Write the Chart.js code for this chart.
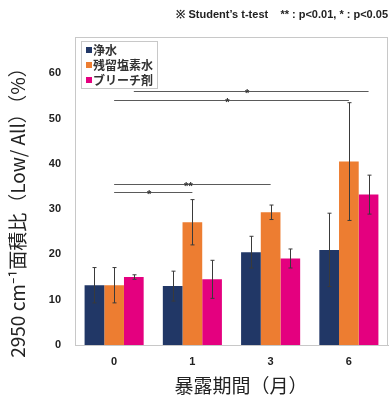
<!DOCTYPE html>
<html>
<head>
<meta charset="utf-8">
<script src="https://cdn.jsdelivr.net/npm/chart.js@4"></script>
<style>
  html, body { margin: 0; padding: 0; background: #fff; }
</style>
</head>
<body>
<canvas id="chart" width="391" height="398"></canvas>
<script>
const months = ['0', '1', '3', '6'];
const seriesNames = ['浄水', '残留塩素水', 'ブリーチ剤'];
const pureWater = [13.2, 13.0, 20.5, 21.0];
const chlorineWater = [13.2, 27.1, 29.3, 40.5];
const bleach = [15.0, 14.5, 19.1, 33.2];
const pureErr = [3.9, 3.3, 3.5, 8.1];
const chlorineErr = [3.9, 5.0, 1.6, 13.0];
const bleachErr = [0.5, 4.2, 2.1, 4.3];
const yTicks = [0, 10, 20, 30, 40, 50, 60];

// significance brackets: height, mark, [dataset, month index] start and end
const sigLevel = [56.0, 54.2, 35.5, 33.7];
const sigMark = ['*', '*', '**', '*'];
const sigFrom = [[2, 0], [1, 0], [1, 0], [1, 0]];
const sigTo = [[2, 3], [1, 3], [1, 2], [1, 1]];

const colors = ['#213766', '#ED7D31', '#E4007F'];
const errors = [pureErr, chlorineErr, bleachErr];
const jpFont = '"Noto Sans CJK JP", "Noto Sans", sans-serif';

const extras = {
  id: 'extras',
  afterDatasetsDraw(chart) {
    const ctx = chart.ctx;
    const y = chart.scales.y;
    const area = chart.chartArea;
    ctx.save();

    // frame
    ctx.strokeStyle = '#C8C8C8';
    ctx.lineWidth = 1;
    ctx.strokeRect(area.left + 0.5, area.top + 0.5, area.right - area.left - 1, area.bottom - area.top);

    // error bars
    ctx.strokeStyle = '#3a3a3a';
    chart.data.datasets.forEach((ds, i) => {
      const meta = chart.getDatasetMeta(i);
      meta.data.forEach((bar, j) => {
        const top = y.getPixelForValue(ds.data[j] + errors[i][j]);
        const bot = y.getPixelForValue(ds.data[j] - errors[i][j]);
        const x = Math.round(bar.x) + 0.5;
        ctx.beginPath();
        ctx.moveTo(x, top); ctx.lineTo(x, bot);
        ctx.moveTo(x - 2, top); ctx.lineTo(x + 2, top);
        ctx.moveTo(x - 2, bot); ctx.lineTo(x + 2, bot);
        ctx.stroke();
      });
    });

    // significance lines
    ctx.strokeStyle = '#5a5a5a';
    ctx.fillStyle = '#333';
    ctx.font = 'bold 11px "Liberation Sans", Arial, sans-serif';
    ctx.textAlign = 'center';
    ctx.textBaseline = 'alphabetic';
    sigLevel.forEach((lv, k) => {
      const x1 = chart.getDatasetMeta(sigFrom[k][0]).data[sigFrom[k][1]].x;
      const x2 = chart.getDatasetMeta(sigTo[k][0]).data[sigTo[k][1]].x;
      const ly = Math.round(y.getPixelForValue(lv)) + 0.5;
      ctx.beginPath();
      ctx.moveTo(x1, ly); ctx.lineTo(x2, ly);
      ctx.stroke();
      ctx.fillText(sigMark[k], (x1 + x2) / 2 - 4, ly + 5);
    });

    // legend
    ctx.fillStyle = '#fff';
    ctx.fillRect(81, 41, 76, 47);
    ctx.strokeStyle = '#C8C8C8';
    ctx.strokeRect(81.5, 41.5, 76, 47);
    ctx.font = 'bold 12px ' + jpFont;
    ctx.textAlign = 'left';
    ctx.textBaseline = 'middle';
    seriesNames.forEach((name, i) => {
      const cy = 50 + i * 15;
      ctx.fillStyle = colors[i];
      ctx.fillRect(86, cy - 3, 6, 6);
      ctx.fillStyle = '#333';
      ctx.fillText(name, 93, cy);
    });

    // note
    ctx.font = 'bold 11px "Liberation Sans", Arial, sans-serif';
    ctx.textAlign = 'right';
    ctx.fillStyle = '#222';
    ctx.fillText('※ Student’s t-test    ** : p<0.01, * : p<0.05', 388, 15);

    // axis titles
    ctx.font = '19px ' + jpFont;
    ctx.textAlign = 'center';
    ctx.fillText('暴露期間（月）', 241, 386);
    ctx.translate(18, 208);
    ctx.rotate(-Math.PI / 2);
    ctx.font = '19px ' + jpFont;
    ctx.fillText('2950 cm⁻¹面積比（Low/ All）（%）', 0, 0);
    ctx.restore();
  }
};

new Chart(document.getElementById('chart'), {
  type: 'bar',
  data: {
    labels: months,
    datasets: [
      { label: seriesNames[0], data: pureWater, backgroundColor: colors[0] },
      { label: seriesNames[1], data: chlorineWater, backgroundColor: colors[1] },
      { label: seriesNames[2], data: bleach, backgroundColor: colors[2] }
    ]
  },
  options: {
    responsive: false,
    animation: false,
    layout: { padding: { top: 37, right: 3, left: 0, bottom: 0 } },
    datasets: { bar: { barPercentage: 1, categoryPercentage: 0.755 } },
    plugins: { legend: { display: false }, tooltip: { enabled: false } },
    scales: {
      x: {
        grid: { display: false, drawTicks: false },
        border: { display: true, color: '#C8C8C8' },
        ticks: { padding: 10, color: '#222', font: { family: '"Liberation Sans", Arial', size: 11, weight: 'bold' } },
        afterFit(scale) { scale.height = 53; }
      },
      y: {
        min: 0,
        max: 68,
        grid: { display: false, drawTicks: false },
        border: { display: true, color: '#C8C8C8' },
        ticks: { padding: 14, color: '#222', font: { family: '"Liberation Sans", Arial', size: 11, weight: 'bold' } },
        afterBuildTicks(scale) { scale.ticks = yTicks.map(v => ({ value: v })); },
        afterFit(scale) { scale.width = 75; }
      }
    }
  },
  plugins: [extras]
});
</script>
</body>
</html>
